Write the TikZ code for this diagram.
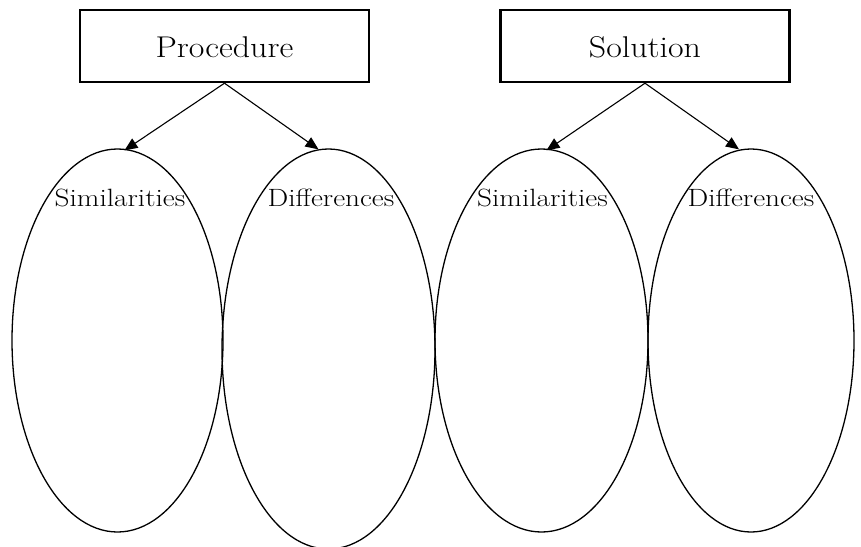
\documentclass[tikz,border=0pt]{standalone}
\usepackage{graphicx}
\usetikzlibrary{arrows.meta,shapes.geometric}

% wide-set lettering for the headings
\newcommand{\widehead}[1]{\scalebox{1.13}[1]{#1}}
\newcommand{\wideoval}[1]{\scalebox{1.17}[1]{#1}}

\begin{document}
\begin{tikzpicture}[x=1pt,y=-1pt,
  topic/.style={draw, line width=2.4pt, rectangle, inner sep=0pt,
    minimum width=289pt, minimum height=72pt},
  topiclabel/.style={anchor=base, inner sep=0pt, font=\fontsize{30}{32}\selectfont},
  oval/.style={draw, line width=1.3pt, ellipse, inner sep=0pt},
  ovallabel/.style={anchor=base, inner sep=0pt, font=\fontsize{25}{27}\selectfont},
  link/.style={line width=1.1pt, -{Triangle[length=13pt,width=11pt]}}]

\useasboundingbox (0,0) rectangle (861,546);

% the two topic boxes
\node[topic] (proc) at (224.5,46) {};
\node[topic] (sol)  at (645,46) {};
\node[topiclabel] (proctext) at (224.5,57) {\widehead{Procedure}};
\node[topiclabel] (soltext)  at (645,57) {\widehead{Solution}};

% the four ovals
\node[oval, minimum width=211pt, minimum height=383pt] (ps) at (117.5,340.5) {};
\node[oval, minimum width=213pt, minimum height=400pt] (pd) at (328.5,349) {};
\node[oval, minimum width=213pt, minimum height=383pt] (ss) at (541.5,340.5) {};
\node[oval, minimum width=206pt, minimum height=383pt] (sd) at (751,340.5) {};

% oval headings
\node[ovallabel] (pstext) at (120,206) {\wideoval{Similarities}};
\node[ovallabel] (pdtext) at (331,206) {\wideoval{Differences}};
\node[ovallabel] (sstext) at (542.5,206) {\wideoval{Similarities}};
\node[ovallabel] (sdtext) at (751,206) {\wideoval{Differences}};

% arrows from each box to its pair of ovals
\draw[link] (proc.south) -- ([xshift=7pt,yshift=-2pt]ps.north);
\draw[link] (proc.south) -- ([xshift=-10pt,yshift=-1pt]pd.north);
\draw[link] (sol.south)  -- ([xshift=5pt,yshift=-2pt]ss.north);
\draw[link] (sol.south)  -- ([xshift=-12pt,yshift=-1pt]sd.north);
\end{tikzpicture}
\end{document}
